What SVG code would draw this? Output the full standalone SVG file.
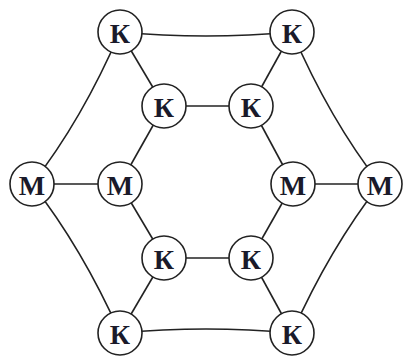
<svg xmlns="http://www.w3.org/2000/svg" width="405" height="357" viewBox="0 0 405 357">
<style>
.e{fill:none;stroke:#222;stroke-width:1.6}
.n circle{fill:#fff;stroke:#222;stroke-width:1.6}
.n text{font-family:"Liberation Serif","DejaVu Serif",serif;font-weight:bold;font-size:28px;fill:#1a1a2a;text-anchor:middle;dominant-baseline:central}
</style>
<rect width="405" height="357" fill="#fff"/>
<g id="edges">
<path class="e" d="M120 32 Q206 40 292 32"/>
<path class="e" d="M120 333 Q206 325 292 333"/>
<path class="e" d="M120 32 Q82 120 32 184"/>
<path class="e" d="M292 32 Q330 120 380 184"/>
<path class="e" d="M32 184 Q82 248 120 333"/>
<path class="e" d="M380 184 Q330 248 292 333"/>
<path class="e" d="M120 32 L164 106"/>
<path class="e" d="M292 32 L251 106"/>
<path class="e" d="M164 106 L251 106"/>
<path class="e" d="M164 106 L120 184"/>
<path class="e" d="M251 106 L293 184"/>
<path class="e" d="M32 184 L120 184"/>
<path class="e" d="M293 184 L380 184"/>
<path class="e" d="M120 184 L164 258"/>
<path class="e" d="M293 184 L251 258"/>
<path class="e" d="M164 258 L251 258"/>
<path class="e" d="M164 258 L120 333"/>
<path class="e" d="M251 258 L292 333"/>
</g>
<g id="k1" class="n"><circle cx="120" cy="32" r="22"/><text x="120" y="33">К</text></g>
<g id="k2" class="n"><circle cx="292" cy="32" r="22"/><text x="292" y="33">К</text></g>
<g id="k3" class="n"><circle cx="164" cy="106" r="22"/><text x="164" y="107">К</text></g>
<g id="k4" class="n"><circle cx="251" cy="106" r="22"/><text x="251" y="107">К</text></g>
<g id="m1" class="n"><circle cx="32" cy="184" r="22"/><text x="32" y="185">М</text></g>
<g id="m2" class="n"><circle cx="120" cy="184" r="22"/><text x="120" y="185">М</text></g>
<g id="m3" class="n"><circle cx="293" cy="184" r="22"/><text x="293" y="185">М</text></g>
<g id="m4" class="n"><circle cx="380" cy="184" r="22"/><text x="380" y="185">М</text></g>
<g id="k5" class="n"><circle cx="164" cy="258" r="22"/><text x="164" y="259">К</text></g>
<g id="k6" class="n"><circle cx="251" cy="258" r="22"/><text x="251" y="259">К</text></g>
<g id="k7" class="n"><circle cx="120" cy="333" r="22"/><text x="120" y="334">К</text></g>
<g id="k8" class="n"><circle cx="292" cy="333" r="22"/><text x="292" y="334">К</text></g>
</svg>
